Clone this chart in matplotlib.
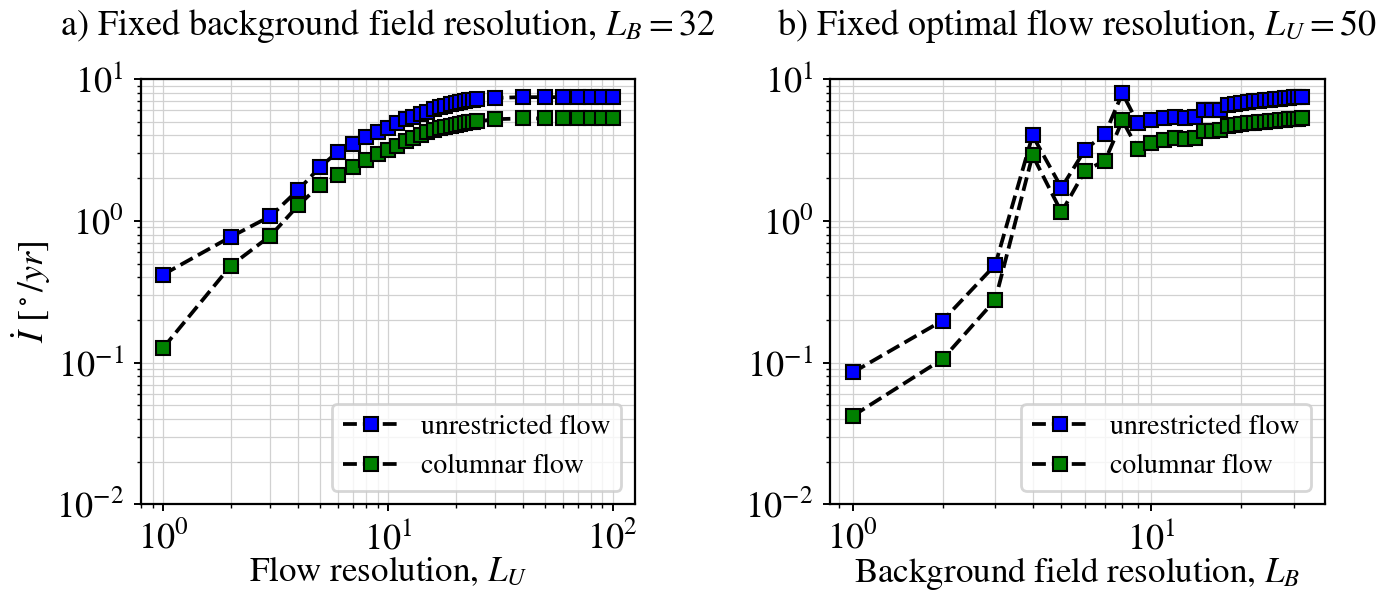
import numpy as np
import matplotlib
matplotlib.use("Agg")
import matplotlib.pyplot as plt

plt.rcParams["font.family"] = ["STIXGeneral", "DejaVu Serif"]
plt.rcParams["mathtext.fontset"] = "stix"

# Panel a: fixed background field resolution L_B = 32
flow_res = [1, 2, 3, 4, 5, 6, 7, 8, 9, 10, 11, 12, 13, 14, 15, 16, 17, 18,
            19, 20, 21, 22, 23, 24, 25, 30, 40, 50, 60, 70, 80, 90, 100]
a_unrestricted = [0.418, 0.771, 1.077, 1.66, 2.40, 3.08, 3.50, 3.88, 4.25, 4.55,
                  4.89, 5.21, 5.44, 5.69, 5.90, 6.13, 6.33, 6.50, 6.68, 6.79,
                  6.90, 7.01, 7.09, 7.17, 7.21, 7.36, 7.45, 7.45, 7.45, 7.45,
                  7.45, 7.45, 7.45]
a_columnar = [0.127, 0.483, 0.784, 1.29, 1.79, 2.09, 2.39, 2.69, 2.97, 3.18,
              3.39, 3.63, 3.84, 4.03, 4.20, 4.34, 4.49, 4.58, 4.68, 4.76,
              4.83, 4.89, 4.94, 4.97, 5.02, 5.21, 5.27, 5.27, 5.27, 5.27,
              5.27, 5.27, 5.27]

# Panel b: fixed optimal flow resolution L_U = 50
field_res = list(range(1, 33))
b_unrestricted = [0.0853, 0.198, 0.489, 4.00, 1.71, 3.18, 4.11, 7.94, 4.89, 5.16,
                  5.30, 5.44, 5.30, 5.44, 6.00, 6.00, 6.07, 6.57, 6.68, 6.80,
                  6.90, 6.98, 7.05, 7.11, 7.17, 7.22, 7.27, 7.32, 7.37, 7.41,
                  7.46, 7.50]
b_columnar = [0.0421, 0.106, 0.277, 2.90, 1.15, 2.26, 2.66, 5.10, 3.23, 3.54,
              3.69, 3.84, 3.78, 3.84, 4.27, 4.27, 4.38, 4.63, 4.71, 4.79,
              4.86, 4.92, 4.97, 5.01, 5.05, 5.09, 5.12, 5.16, 5.19, 5.22,
              5.26, 5.30]

titles = [r"a) Fixed background field resolution, $L_B = 32$",
          r"b) Fixed optimal flow resolution, $L_U = 50$"]
xlabels = [r"Flow resolution, $L_U$", r"Background field resolution, $L_B$"]
series_labels = ["unrestricted flow", "columnar flow"]
colors = ["blue", "green"]

fig = plt.figure(figsize=(6.96, 2.955), dpi=200)
ax_a = fig.add_axes([0.1011, 0.1465, 0.3551, 0.7198])
ax_b = fig.add_axes([0.5965, 0.1465, 0.3551, 0.7198])

panels = [(ax_a, flow_res, [a_unrestricted, a_columnar]),
          (ax_b, field_res, [b_unrestricted, b_columnar])]

for i, (ax, x, ys) in enumerate(panels):
    for y, c, lab in zip(ys, colors, series_labels):
        ax.plot(x, y, linestyle="--", color="black", lw=1.35,
                marker="s", markersize=5.2, markerfacecolor=c,
                markeredgecolor="black", markeredgewidth=0.75, label=lab)
    ax.set_xscale("log")
    ax.set_yscale("log")
    ax.set_ylim(1e-2, 1e1)
    ax.grid(True, which="both", color="0.82", lw=0.45)
    ax.set_axisbelow(True)
    ax.tick_params(which="major", labelsize=13, length=2.6, width=0.7)
    ax.tick_params(which="minor", length=1.5, width=0.5)
    for sp in ax.spines.values():
        sp.set_linewidth(0.8)
    ax.set_title(titles[i], fontsize=13.0, pad=16)
    ax.set_xlabel(xlabels[i], fontsize=12.6, labelpad=-0.6)
    ax.legend(loc="lower right", fontsize=10.0)

ax_a.set_ylabel(r"$\dot{I}$ [$^\circ/yr$]", fontsize=13, labelpad=1)

fig.savefig("out.png", dpi=200)
